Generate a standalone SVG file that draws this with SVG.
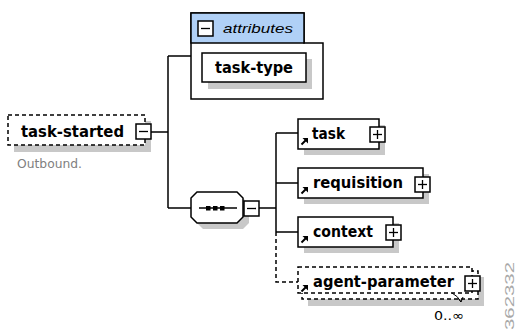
<svg xmlns="http://www.w3.org/2000/svg" width="516" height="331" viewBox="0 0 516 331">
  <style>
    .box { fill: #ffffff; stroke: #000000; stroke-width: 1.5; }
    .opt { fill: #ffffff; stroke: #000000; stroke-width: 1.5; stroke-dasharray: 4 3; }
    .shadow { fill: #c8c8c8; stroke: none; }
    .wire { fill: none; stroke: #000000; stroke-width: 1.5; }
    .wire-opt { fill: none; stroke: #000000; stroke-width: 1.5; stroke-dasharray: 4 3; }
    .name { font-family: "DejaVu Sans", "Liberation Sans", sans-serif; font-weight: bold; font-size: 15.5px; fill: #000000; }
    .note { font-family: "DejaVu Sans", "Liberation Sans", sans-serif; font-size: 11.5px; fill: #808080; }
    .toggle-line { stroke: #000000; stroke-width: 1.3; }
  </style>
  <defs>
    <!-- expand / collapse toggles -->
    <g id="minus">
      <rect x="0" y="0" width="15" height="15" class="box" stroke-width="1.3"/>
      <line x1="3" y1="7.5" x2="12" y2="7.5" class="toggle-line"/>
    </g>
    <g id="plus">
      <rect x="0" y="0" width="15" height="15" class="box" stroke-width="1.3"/>
      <line x1="3" y1="7.5" x2="12" y2="7.5" class="toggle-line"/>
      <line x1="7.5" y1="3" x2="7.5" y2="12" class="toggle-line"/>
    </g>
    <!-- reference arrow glyph -->
    <g id="ref">
      <path d="M0.5,6.5 L5,2" stroke="#000" stroke-width="2"/>
      <path d="M1.5,0 L7,0 L7,5.5 Z" fill="#000"/>
    </g>
  </defs>

  <!-- connectors -->
  <g id="connectors">
    <path class="wire" d="M151,132 H168 M168,56 V208 M168,56 H191 M168,208 H191"/>
    <path class="wire" d="M259,208 H276 M276,133 V232 M276,133 H298 M276,183 H298 M276,232 H298"/>
    <path class="wire-opt" d="M276,232 V282 H298"/>
  </g>

  <!-- root element -->
  <g id="task-started">
    <rect x="14" y="121" width="137" height="31" class="shadow"/>
    <rect x="8" y="115" width="137" height="30" class="opt"/>
    <text x="21" y="137" class="name" font-size="16px" textLength="103" lengthAdjust="spacingAndGlyphs">task-started</text>
    <use href="#minus" x="136" y="124"/>
    <text x="17" y="168" class="note" textLength="65" lengthAdjust="spacingAndGlyphs">Outbound.</text>
  </g>

  <!-- attribute group -->
  <g id="attributes">
    <path d="M191,13 H304 V43 H323 V99 H191 Z" fill="#ffffff" stroke="#000" stroke-width="1.5"/>
    <path d="M191,13 H304 V43 H191 Z" fill="#b0d0f6" stroke="#000" stroke-width="1.5"/>
    <use href="#minus" x="198" y="21"/>
    <text x="223" y="33" font-family="'Liberation Sans', Arial, sans-serif" font-style="italic" font-size="13.5px" fill="#000" textLength="70" lengthAdjust="spacingAndGlyphs">attributes</text>
  </g>
  <g id="task-type">
    <rect x="208" y="59" width="104" height="30" class="shadow"/>
    <rect x="202" y="53" width="104" height="29" class="box"/>
    <text x="215" y="73" class="name" textLength="78" lengthAdjust="spacingAndGlyphs">task-type</text>
  </g>

  <!-- sequence compositor -->
  <g id="sequence">
    <polygon points="203,198 243,198 249,204 249,223 243,229 203,229 197,223 197,204" class="shadow"/>
    <polygon points="197,192 237,192 243,198 243,217 237,223 197,223 191,217 191,198" class="box"/>
    <line x1="199" y1="208" x2="237" y2="208" stroke="#000" stroke-width="1.3"/>
    <rect x="206" y="206" width="4.5" height="4.5" fill="#000"/>
    <rect x="213" y="206" width="4.5" height="4.5" fill="#000"/>
    <rect x="220" y="206" width="4.5" height="4.5" fill="#000"/>
    <use href="#minus" x="244" y="201"/>
  </g>

  <!-- child elements -->
  <g id="task">
    <rect x="304" y="125" width="81" height="30" class="shadow"/>
    <rect x="298" y="119" width="81" height="30" class="box"/>
    <use href="#ref" x="301" y="138"/>
    <text x="312" y="139" class="name" textLength="33" lengthAdjust="spacingAndGlyphs">task</text>
    <use href="#plus" x="370" y="127"/>
  </g>

  <g id="requisition">
    <rect x="304" y="174" width="125" height="30" class="shadow"/>
    <rect x="298" y="168" width="125" height="30" class="box"/>
    <use href="#ref" x="301" y="187"/>
    <text x="313" y="188" class="name" textLength="90" lengthAdjust="spacingAndGlyphs">requisition</text>
    <use href="#plus" x="415" y="177"/>
  </g>

  <g id="context">
    <rect x="304" y="223" width="95" height="30" class="shadow"/>
    <rect x="298" y="217" width="95" height="30" class="box"/>
    <use href="#ref" x="301" y="236"/>
    <text x="313" y="237" class="name" textLength="60" lengthAdjust="spacingAndGlyphs">context</text>
    <use href="#plus" x="386" y="225"/>
  </g>

  <g id="agent-parameter">
    <rect x="308" y="277" width="176" height="29" class="shadow"/>
    <rect x="302" y="271" width="176" height="28" class="opt"/>
    <rect x="298" y="267" width="174" height="26" class="opt"/>
    <use href="#ref" x="301" y="285"/>
    <text x="313" y="287" class="name" textLength="141" lengthAdjust="spacingAndGlyphs">agent-parameter</text>
    <use href="#plus" x="465" y="276"/>
    <path d="M452,293 Q458,296 461,302 M461,302 L458,298 M461,302 L463,297" fill="none" stroke="#000" stroke-width="1"/>
    <text x="434" y="320" font-family="'DejaVu Sans', 'Liberation Sans', sans-serif" font-size="13px" fill="#000" textLength="30" lengthAdjust="spacingAndGlyphs">0..∞</text>
  </g>

  <!-- figure number -->
  <text x="0" y="0" transform="translate(514,330) rotate(-90)" font-family="'Liberation Sans', Arial, sans-serif" font-size="13px" fill="#a8a8a8" textLength="68" lengthAdjust="spacingAndGlyphs">362332</text>
</svg>
